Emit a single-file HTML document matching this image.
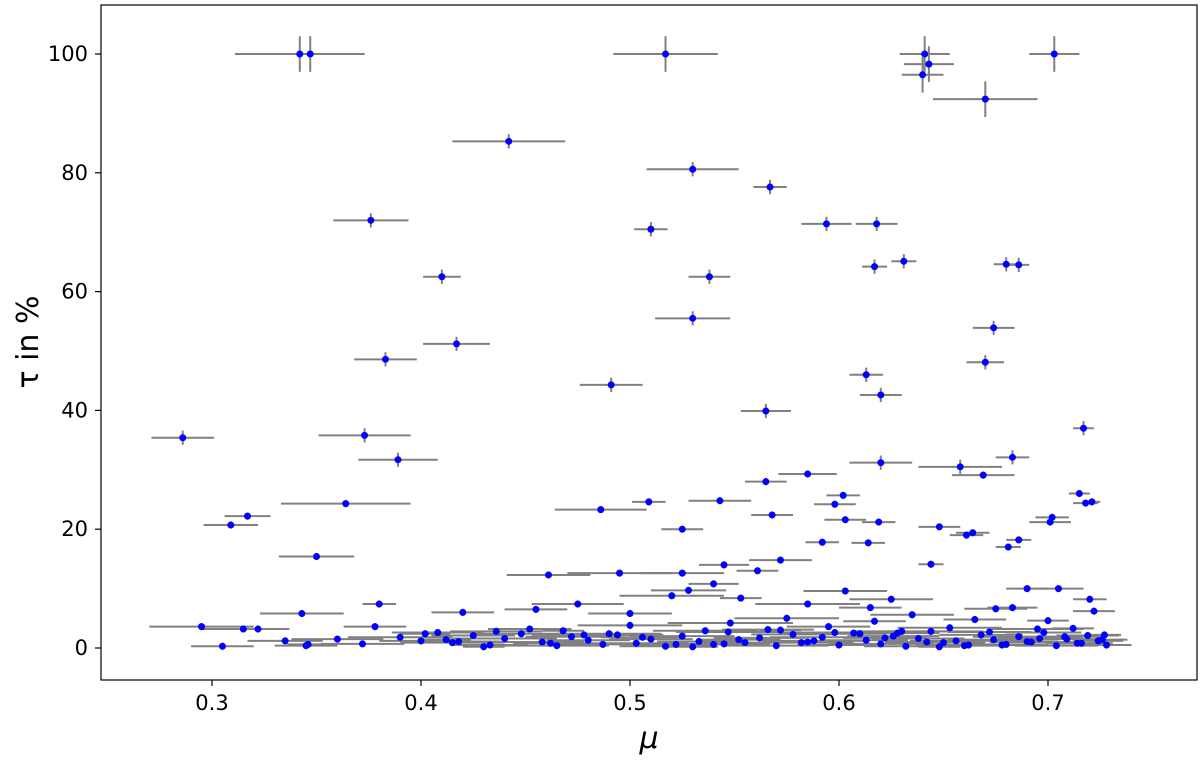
<!DOCTYPE html>
<html><head><meta charset="utf-8"><style>
body{margin:0;background:#fff;font-family:"Liberation Sans","DejaVu Sans",sans-serif}
svg text{font-family:"DejaVu Sans","Liberation Sans",sans-serif}
</style></head><body>
<svg id="chart" width="1200" height="755" xmlns="http://www.w3.org/2000/svg">
<g id="bars"></g>
<g id="pts"></g>
<rect x="101" y="5" width="1096" height="675" fill="none" stroke="#000" stroke-width="1.2"/>
<g id="axes"></g>
<text x="649" y="748" font-size="30" font-style="italic" text-anchor="middle">μ</text>
<text transform="translate(38,342) rotate(-90)" font-size="30" text-anchor="middle">τ in %</text>
</svg>
<script>
const xTicks=[0.3,0.4,0.5,0.6,0.7];
const xTickLabels=["0.3","0.4","0.5","0.6","0.7"];
const yTicks=[0,20,40,60,80,100];
const yTickLabels=["0","20","40","60","80","100"];
const mu=[0.342,0.347,0.517,0.641,0.643,0.640,0.703,0.670,0.442,0.530,0.567,0.376,0.594,0.618,0.510,0.410,0.538,0.617,0.631,0.680,0.686,0.530,0.417,0.383,0.674,0.670,0.491,0.613,0.620,0.565,0.286,0.373,0.389,0.717,0.309,0.317,0.364,0.350,0.486,0.509,0.543,0.525,0.565,0.585,0.568,0.620,0.658,0.669,0.683,0.602,0.598,0.603,0.619,0.614,0.592,0.648,0.661,0.664,0.681,0.686,0.701,0.702,0.715,0.718,0.721,0.644,
0.461,0.495,0.525,0.545,0.561,0.572,0.540,0.553,0.295,0.343,0.380,0.420,0.455,0.475,0.500,0.520,0.528,0.585,0.603,0.615,0.625,0.675,0.690,0.705,0.720,0.322,0.378,0.452,0.500,0.548,0.575,0.595,0.617,0.635,0.665,0.683,0.700,0.722,
0.305,0.315,0.335,0.345,0.360,0.372,0.390,0.400,0.408,0.415,0.425,0.433,0.440,0.448,0.458,0.465,0.472,0.480,0.487,0.494,0.503,0.510,0.517,0.525,0.533,0.540,0.547,0.555,0.562,0.570,0.578,0.585,0.592,0.600,0.607,0.613,0.620,0.626,0.632,0.638,0.644,0.650,0.656,0.662,0.668,0.674,0.680,0.686,0.692,0.698,0.704,0.709,0.714,0.719,0.724,0.728,0.346,0.412,0.468,0.530,0.572,0.610,0.648,0.690,0.712,0.727,
0.402,0.418,0.436,0.462,0.478,0.506,0.522,0.536,0.552,0.566,0.582,0.598,0.622,0.630,0.642,0.653,0.660,0.672,0.695,0.708,0.716,0.726,0.430,0.490,0.545,0.588,0.628,0.678,0.696];
const tau=[100,100,100,100,98.3,96.5,100,92.4,85.3,80.6,77.6,72,71.4,71.4,70.5,62.5,62.5,64.2,65.1,64.6,64.5,55.5,51.2,48.6,53.9,48.1,44.3,46,42.6,39.9,35.4,35.8,31.7,37,20.7,22.2,24.3,15.4,23.3,24.6,24.8,20,28,29.3,22.4,31.2,30.5,29.1,32.1,25.7,24.2,21.6,21.2,17.7,17.8,20.4,19,19.4,17,18.2,21.2,22,26,24.4,24.6,14.1,
12.3,12.6,12.6,14,13,14.8,10.8,8.4,3.6,5.8,7.4,6,6.5,7.4,5.8,8.8,9.7,7.4,9.6,6.8,8.2,6.6,10,10,8.2,3.2,3.6,3.2,3.8,4.2,5,3.6,4.5,5.6,4.8,6.8,4.6,6.2,
0.3,3.2,1.2,0.4,1.5,0.7,1.8,1.2,2.6,0.9,2.1,0.5,1.6,2.4,1.0,0.4,1.9,1.3,0.6,2.2,0.8,1.5,0.3,2.0,1.1,0.6,2.7,0.9,1.7,0.4,2.3,1.0,1.8,0.5,2.5,1.3,0.7,2.0,0.3,1.6,2.8,0.9,1.2,0.5,2.2,1.4,0.6,1.9,1.0,2.6,0.4,1.5,0.8,2.1,1.2,0.5,0.6,1.4,2.9,0.2,3.0,2.4,0.2,1.1,3.3,2.2,
2.4,1.1,2.8,0.8,2.2,1.8,0.6,2.9,1.4,3.1,0.9,2.6,1.7,2.8,1.0,3.4,0.4,2.7,3.2,1.9,0.8,1.4,0.2,2.4,0.7,1.2,2.5,0.5,1.6];
const muErr=[0.031,0.012,0.025,0.012,0.012,0.010,0.012,0.025,0.027,0.022,0.008,0.018,0.012,0.010,0.008,0.009,0.010,0.006,0.006,0.006,0.005,0.018,0.016,0.015,0.010,0.009,0.015,0.008,0.010,0.012,0.015,0.022,0.019,0.005,0.013,0.011,0.031,0.018,0.022,0.008,0.015,0.010,0.010,0.014,0.010,0.015,0.020,0.015,0.008,0.008,0.010,0.010,0.008,0.008,0.008,0.010,0.008,0.008,0.006,0.006,0.010,0.008,0.005,0.006,0.004,0.006,
0.020,0.025,0.020,0.012,0.010,0.015,0.012,0.010,0.025,0.020,0.008,0.015,0.015,0.022,0.020,0.025,0.018,0.025,0.020,0.015,0.020,0.015,0.010,0.012,0.008,0.015,0.015,0.020,0.025,0.030,0.025,0.020,0.015,0.020,0.015,0.012,0.010,0.010,
0.015,0.020,0.018,0.015,0.022,0.020,0.025,0.020,0.022,0.025,0.020,0.018,0.025,0.022,0.020,0.025,0.022,0.020,0.025,0.022,0.025,0.020,0.022,0.025,0.020,0.022,0.025,0.020,0.022,0.025,0.020,0.022,0.025,0.020,0.022,0.020,0.025,0.022,0.020,0.022,0.025,0.020,0.022,0.025,0.020,0.022,0.020,0.022,0.020,0.018,0.020,0.018,0.015,0.015,0.012,0.012,0.010,0.012,0.010,0.012,0.010,0.012,0.010,0.015,0.010,0.008,0.012,
0.020,0.022,0.018,0.025,0.020,0.022,0.025,0.020,0.022,0.018,0.025,0.020,0.022,0.020,0.025,0.018,0.020,0.022,0.020,0.015,0.012,0.010,0.025,0.022,0.025,0.020,0.022,0.020,0.018];
const tauErr=tau.map(t=>t>90?3:(t>30?1.2:0.6));
const svg=document.getElementById('chart');
const NS='http://www.w3.org/2000/svg';
function xs(v){return 212+(v-0.3)*2090;}
function ys(v){return 648-v*5.94;}
function mk(tag,attrs,parent){const e=document.createElementNS(NS,tag);for(const k in attrs)e.setAttribute(k,attrs[k]);parent.appendChild(e);return e;}
const axes=document.getElementById('axes');
xTicks.forEach((t,i)=>{
 const l=mk('line',{x1:xs(t),x2:xs(t),y1:680,y2:686,stroke:'#000','stroke-width':1.2},axes);
 
 
 const tx=mk('text',{x:xs(t),y:710,'font-size':21,'text-anchor':'middle'},axes);
 tx.textContent=xTickLabels[i];
 
 
});
yTicks.forEach((t,i)=>{
 const l=mk('line',{x1:95,x2:101,y1:ys(t),y2:ys(t),stroke:'#000','stroke-width':1.2},axes);
 
 
 const tx=mk('text',{x:88,y:ys(t)+7,'font-size':21,'text-anchor':'end'},axes);
 tx.textContent=yTickLabels[i];
 
 
});
const bars=document.getElementById('bars'),pts=document.getElementById('pts');
const n=Math.min(mu.length,tau.length,muErr.length);
for(let i=0;i<n;i++){
 const h=mk('line',{x1:xs(mu[i]-muErr[i]),x2:xs(mu[i]+muErr[i]),y1:ys(tau[i]),y2:ys(tau[i]),stroke:'#808080','stroke-width':2},bars);
 
 
 const v=mk('line',{x1:xs(mu[i]),x2:xs(mu[i]),y1:ys(tau[i]-tauErr[i]),y2:ys(tau[i]+tauErr[i]),stroke:'#808080','stroke-width':2},bars);
 
 
 const c=mk('circle',{cx:xs(mu[i]),cy:ys(tau[i]),r:3.5,fill:'#0000ff'},pts);
 
 
}
</script>
</body></html>
